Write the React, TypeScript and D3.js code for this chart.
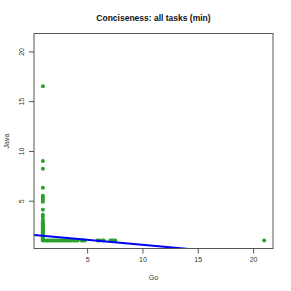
import React, { useEffect, useRef } from "react";
import * as d3 from "d3";

// Go vs Java minimum conciseness ratios
const goValues = [
  1, 1, 1, 1, 1, 1, 1, 1, 1, 1, 1, 1, 1, 1, 1, 1, 1, 1, 1, 1, 1, 1, 1, 1, 1, 1, 1, 1, 1, 1, 1, 1, 1, 1, 1, 1,
  1.15, 1.3, 1.45, 1.6, 1.75, 1.9, 2.05, 2.2, 2.35, 2.5, 2.65, 2.8, 2.95, 3.1, 3.25, 3.4, 3.55, 3.7, 3.85, 4.0, 4.15,
  4.5, 4.65, 4.8, 5.95, 6.1, 6.35, 6.5, 7.1, 7.25, 7.4, 7.55, 21,
];
const javaValues = [
  16.5, 9.0, 8.2, 6.3, 5.5, 5.3, 5.1, 4.9, 4.1, 3.6, 3.4, 3.1, 2.9, 2.8, 2.7, 2.6, 2.5, 2.4, 2.3, 2.2, 2.1, 2.0,
  1.9, 1.8, 1.7, 1.6, 1.5, 1.45, 1.4, 1.3, 1.25, 1.2, 1.15, 1.1, 1.05, 1.0,
  1, 1, 1, 1, 1, 1, 1, 1, 1, 1, 1, 1, 1, 1, 1, 1, 1, 1, 1, 1, 1,
  1, 1, 1, 1, 1, 1, 1, 1, 1, 1, 1, 1,
];
// fitted line: java = intercept + slope * go
const fitIntercept = 1.57;
const fitSlope = -0.1;
const xTicks = [5, 10, 15, 20];
const yTicks = [5, 10, 15, 20];

const W = 291;
const H = 291;
const FONT = "Liberation Sans, Arial, sans-serif";

export default function App() {
  const ref = useRef<SVGSVGElement>(null);

  useEffect(() => {
    const svg = d3.select(ref.current);
    svg.selectAll("*").remove();

    const left = 34, right = 273, top = 33.5, bottom = 248.5;
    const x = d3.scaleLinear().domain([0.2, 21.8]).range([left, right]);
    const y = d3.scaleLinear().domain([0.2, 21.8]).range([bottom, top]);

    svg.append("defs").append("clipPath").attr("id", "plotclip")
      .append("rect").attr("x", left).attr("y", top)
      .attr("width", right - left).attr("height", bottom - top);

    // points
    const pts = goValues.map((g, i) => ({ go: g, java: javaValues[i] }));
    svg.append("g").selectAll("circle").data(pts).enter().append("circle")
      .attr("cx", (d) => x(d.go))
      .attr("cy", (d) => y(d.java))
      .attr("r", 2)
      .attr("fill", "#2ca02c");

    // regression line
    const xs = x.domain();
    svg.append("line")
      .attr("clip-path", "url(#plotclip)")
      .attr("x1", x(xs[0])).attr("y1", y(fitIntercept + fitSlope * xs[0]))
      .attr("x2", x(xs[1])).attr("y2", y(fitIntercept + fitSlope * xs[1]))
      .attr("stroke", "#0000ff").attr("stroke-width", 2);

    // box
    svg.append("rect")
      .attr("x", left).attr("y", top)
      .attr("width", right - left).attr("height", bottom - top)
      .attr("fill", "none").attr("stroke", "#555").attr("stroke-width", 1);

    // x axis
    const xa = svg.append("g").attr("transform", `translate(0,${bottom})`)
      .call(d3.axisBottom(x).tickValues(xTicks).tickSize(5).tickPadding(4).tickSizeOuter(0));
    xa.select(".domain").remove();
    xa.selectAll("line").attr("stroke", "#555");
    xa.selectAll("text").attr("fill", "#333").style("font-size", "7px").style("font-family", FONT);

    // y axis, labels rotated like R's default
    const ya = svg.append("g").attr("transform", `translate(${left},0)`)
      .call(d3.axisLeft(y).tickValues(yTicks).tickSize(5).tickPadding(4).tickSizeOuter(0));
    ya.select(".domain").remove();
    ya.selectAll("line").attr("stroke", "#555");
    ya.selectAll("text")
      .attr("fill", "#333")
      .style("font-size", "7px")
      .style("font-family", FONT)
      .attr("text-anchor", "middle")
      .attr("x", 0)
      .attr("y", 0)
      .attr("dy", 0)
      .attr("transform", "translate(-10,0) rotate(-90)");

    // titles
    svg.append("text")
      .attr("x", (left + right) / 2).attr("y", 21)
      .attr("text-anchor", "middle")
      .style("font-family", FONT)
      .style("font-size", "8.5px").style("font-weight", "bold")
      .attr("fill", "#111")
      .text("Conciseness: all tasks (min)");

    svg.append("text")
      .attr("x", (left + right) / 2).attr("y", 280)
      .attr("text-anchor", "middle")
      .style("font-family", FONT)
      .style("font-size", "7px")
      .attr("fill", "#333")
      .text("Go");

    svg.append("text")
      .attr("transform", `translate(9,${(top + bottom) / 2}) rotate(-90)`)
      .attr("text-anchor", "middle")
      .style("font-family", FONT)
      .style("font-size", "7px")
      .attr("fill", "#333")
      .text("Java");
  }, []);

  return (
    <svg
      ref={ref}
      width={W}
      height={H}
      style={{ position: "absolute", left: 0, top: 0, background: "#fff" }}
    />
  );
}
